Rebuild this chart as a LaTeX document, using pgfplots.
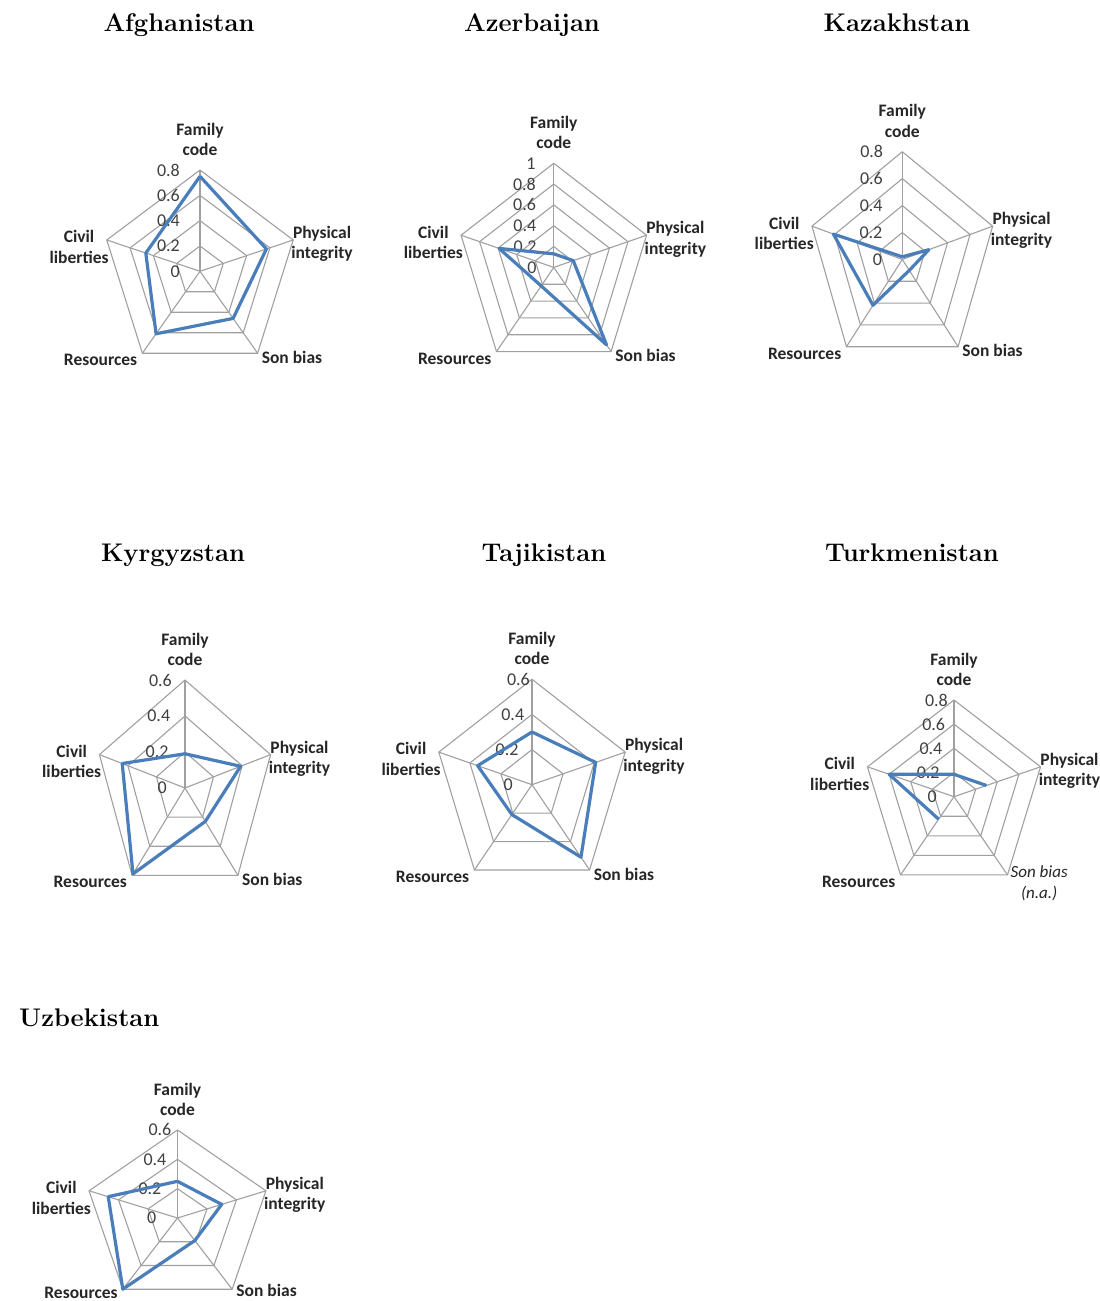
\documentclass[border=0pt]{standalone}
\usepackage{fontspec}
\usepackage{pgfplots}
\pgfplotsset{compat=1.18}
\newfontfamily\calibri{Carlito}
\definecolor{gridc}{RGB}{160,160,160}
\definecolor{serblue}{RGB}{74,126,187}

\tikzset{
  gridl/.style={draw=gridc, line width=1.1pt},
  lab/.style={font=\calibri\bfseries\fontsize{17.5}{20.5}\selectfont, align=center, inner sep=0pt, text=black!85},
  labit/.style={font=\calibri\itshape\fontsize{17}{20.5}\selectfont, align=center, inner sep=0pt, text=black!85},
  ticklab/.style={font=\calibri\fontsize{18}{20}\selectfont, inner sep=0pt, text=black!75},
  ttl/.style={font=\bfseries\fontsize{25.5}{30}\selectfont, inner sep=0pt},
}
\pgfplotsset{
  radar/.style={hide axis, clip=false, anchor=center, enlargelimits=false,
    xmin=-#1, xmax=#1, ymin=-#1, ymax=#1},
  dataline/.style={draw=serblue, line width=3.2pt, line join=round, mark=none, data cs=polar},
}

% #1 max radius, #2 tick offset at 0, #3 tick offset at max
\newcommand\setM[3]{%
  \pgfmathsetmacro\M{#1}%
  \pgfmathsetmacro\pix{0.95106*#1}%
  \pgfmathsetmacro\piy{0.30902*#1}%
  \pgfmathsetmacro\sbx{0.58779*#1}%
  \pgfmathsetmacro\sby{-0.80902*#1}%
  \def\oz{#2}\def\ot{#3}}
\def\resy{-7pt}
\def\sby{-4pt}

% #1 ring list, #2 tick list
\newcommand\radarframe[2]{%
  \pgfplotsinvokeforeach{#1}{\addplot[gridl, mark=none, data cs=polar] coordinates {(90,##1)(18,##1)(-54,##1)(-126,##1)(162,##1)(90,##1)};}
  \draw[gridl] (axis cs:0,0) -- (axis cs:0,\M);
  \draw[gridl] (axis cs:0,0) -- (axis cs:\pix,\piy);
  \draw[gridl] (axis cs:0,0) -- (axis cs:\sbx,\sby);
  \draw[gridl] (axis cs:0,0) -- (axis cs:-\sbx,\sby);
  \draw[gridl] (axis cs:0,0) -- (axis cs:-\pix,\piy);
  \pgfplotsinvokeforeach{#2}{\path (axis cs:0,##1) ++({-(\oz+(\ot-\oz)*##1/\M)*1pt},0pt) node[ticklab,anchor=east]{##1};}
  \node[lab,anchor=south,yshift=14pt] at (axis cs:0,\M) {Family\\code};
  \node[lab,anchor=west,xshift=-2pt,yshift=-4pt] at (axis cs:\pix,\piy) {Physical\\integrity};
  \node[lab,anchor=east,xshift=-5pt,yshift=\resy] at (axis cs:-\sbx,\sby) {Resources};
  \node[lab,anchor=east,xshift=2pt,yshift=-7pt] at (axis cs:-\pix,\piy) {Civil\\liberties};
}
\def\sbshift{-4pt}
\newcommand\sblabel{\node[lab,anchor=west,xshift=4pt,yshift=\sbshift] at (axis cs:\sbx,\sby) {Son bias};}

\begin{document}
\begin{tikzpicture}
\useasboundingbox (0pt,0pt) rectangle (1100pt,1301pt);

% Titles
\node[ttl,anchor=base] at (179pt,1269pt) {Afghanistan};
\node[ttl,anchor=base] at (532pt,1269pt) {Azerbaijan};
\node[ttl,anchor=base] at (897pt,1269pt) {Kazakhstan};
\node[ttl,anchor=base] at (173pt,739pt) {Kyrgyzstan};
\node[ttl,anchor=base] at (544pt,739pt) {Tajikistan};
\node[ttl,anchor=base] at (912pt,739pt) {Turkmenistan};
\node[ttl,anchor=base west] at (19pt,274pt) {Uzbekistan};

% Afghanistan
\setM{0.8}{20}{20}
\begin{axis}[radar=0.8, at={(200pt,1029.7pt)}, x=122.5pt, y=126.6pt]
\radarframe{0.2,0.4,0.6,0.8}{0,0.2,0.4,0.6,0.8}
\sblabel
\addplot[dataline] coordinates {(90,0.75) (18,0.57) (-54,0.46) (-126,0.61) (162,0.465) (90,0.75)};
\end{axis}

% Azerbaijan
\setM{1}{17}{18}
\begin{axis}[radar=1, at={(553.8pt,1033.6pt)}, x=97.5pt, y=104.1pt]
\radarframe{0.2,0.4,0.6,0.8,1}{0,0.2,0.4,0.6,0.8,1}
\sblabel
\addplot[dataline] coordinates {(90,0.13) (18,0.21) (-54,0.92) (-126,0.22) (162,0.59) (90,0.13)};
\end{axis}

% Kazakhstan
\setM{0.8}{20}{19}
\begin{axis}[radar=0.8, at={(902.3pt,1041.5pt)}, x=118.75pt, y=134.75pt]
\radarframe{0.2,0.4,0.6,0.8}{0,0.2,0.4,0.6,0.8}
\sblabel
\addplot[dataline] coordinates {(90,0.02) (18,0.235) (-54,0.10) (-126,0.42) (162,0.61) (90,0.02)};
\end{axis}

% Kyrgyzstan
\setM{0.6}{18}{13}
\begin{axis}[radar=0.6, at={(185pt,513pt)}, x=150pt, y=180pt]
\radarframe{0.2,0.4,0.6}{0,0.2,0.4,0.6}
\sblabel
\addplot[dataline] coordinates {(90,0.19) (18,0.39) (-54,0.23) (-126,0.59) (162,0.44) (90,0.19)};
\end{axis}

% Tajikistan
\setM{0.6}{19}{2}
\begin{axis}[radar=0.6, at={(532pt,516.3pt)}, x=163.3pt, y=175.7pt]
\radarframe{0.2,0.4,0.6}{0,0.2,0.4,0.6}
\sblabel
\addplot[dataline] coordinates {(90,0.30) (18,0.41) (-54,0.51) (-126,0.21) (162,0.35) (90,0.30)};
\end{axis}

% Turkmenistan (son bias n.a.)
\setM{0.8}{17}{6}
\begin{axis}[radar=0.8, at={(954pt,504.3pt)}, x=113.75pt, y=120.9pt]
\radarframe{0.2,0.4,0.6,0.8}{0,0.2,0.4,0.6,0.8}
\node[labit,anchor=north west,xshift=3pt,yshift=9pt] at (axis cs:\sbx,\sby) {Son bias\\(n.a.)};
\addplot[dataline] coordinates {(18,0.30) (90,0.185) (162,0.60) (-126,0.23)};
\end{axis}

% Uzbekistan
\setM{0.6}{21}{6}
\def\resy{-4pt}\def\sbshift{-1pt}
\begin{axis}[radar=0.6, at={(177.5pt,83pt)}, x=155pt, y=146.7pt]
\radarframe{0.2,0.4,0.6}{0,0.2,0.4,0.6}
\sblabel
\addplot[dataline] coordinates {(90,0.25) (18,0.30) (-54,0.19) (-126,0.60) (162,0.47) (90,0.25)};
\end{axis}

\end{tikzpicture}
\end{document}
